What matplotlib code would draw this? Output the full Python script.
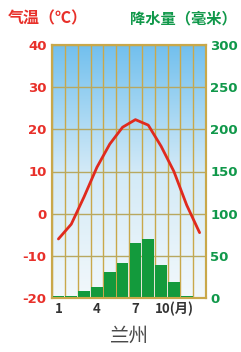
import numpy as np
import matplotlib
matplotlib.use("Agg")
import matplotlib.pyplot as plt
from matplotlib.colors import LinearSegmentedColormap

months = np.arange(1, 13)
temperature = [-6, -2.5, 4, 11, 16.5, 20.5, 22.3, 21, 16, 10, 2, -4.5]
precipitation = [2, 2, 8, 13, 31, 42, 65, 70, 39, 19, 2, 1]
temp_ticks = [-20, -10, 0, 10, 20, 30, 40]
prec_ticks = [0, 50, 100, 150, 200, 250, 300]
xtick_months = [1, 4, 7, 10]
xtick_labels = ["1", "4", "7", "10(月)"]

plt.rcParams['font.family'] = ['Noto Sans CJK SC', 'DejaVu Sans']

W, H = 241, 352
fig = plt.figure(figsize=(W / 100, H / 100), dpi=100)
fig.patch.set_facecolor('white')

left, right, top, bottom = 52, 206, 45, 298
ax = fig.add_axes([left / W, 1 - bottom / H, (right - left) / W, (bottom - top) / H])
ax.set_xlim(0.5, 12.5)
ax.set_ylim(-20, 40)
ax2 = ax.twinx()
ax2.set_ylim(0, 300)
ax.set_zorder(ax2.get_zorder() + 1)
ax.patch.set_visible(False)

# background gradient on precipitation axes (bottom layer)
cmap = LinearSegmentedColormap.from_list('sky', ['#f2f8fb', '#d3eaf7', '#72c0ee'])
grad = np.linspace(0, 1, 256).reshape(-1, 1)
ax2.imshow(grad, extent=[0.5, 12.5, 0, 300], origin='lower', aspect='auto',
           cmap=cmap, zorder=0)

grid_c = '#c9a84a'
for x in np.arange(0.5, 13.0, 1.0):
    ax2.axvline(x, color=grid_c, lw=1.0, zorder=1)
for y in prec_ticks:
    ax2.axhline(y, color='#b8a860', lw=1.0, zorder=1)

ax2.bar(months, precipitation, width=0.92, color='#139a3c', zorder=3)

ax.plot(months, temperature, color='#e02a1e', lw=2.0, zorder=5,
        solid_joinstyle='round', solid_capstyle='round')

for a in (ax, ax2):
    for s in a.spines.values():
        s.set_color(grid_c)
        s.set_linewidth(1.5)

ax.set_yticks(temp_ticks)
ax.set_yticklabels([str(t) for t in temp_ticks], color='#e8302a', fontsize=9.5,
                   fontweight='bold', family=['DejaVu Sans'])
ax2.set_yticks(prec_ticks)
ax2.set_yticklabels([str(t) for t in prec_ticks], color='#10984a', fontsize=9.5,
                    fontweight='bold', family=['DejaVu Sans'])
ax.tick_params(axis='y', length=0, pad=4)
ax2.tick_params(axis='y', length=0, pad=3)
ax.set_xticks(xtick_months)
ax.set_xticklabels(xtick_labels, color='#333333', fontsize=9.5, fontweight='bold')
ax.tick_params(axis='x', length=0, pad=3)

fig.text(8 / W, 1 - 18 / H, '气温（℃）', color='#e8302a', fontsize=11.5,
         fontweight='bold', ha='left', va='center')
fig.text(130 / W, 1 - 18 / H, '降水量（毫米）', color='#10984a', fontsize=11,
         fontweight='bold', ha='left', va='center')
fig.text(129 / W, 1 - 336 / H, '兰州', color='#4a4a4a', fontsize=14,
         ha='center', va='center')

fig.savefig('out.png', dpi=100)
